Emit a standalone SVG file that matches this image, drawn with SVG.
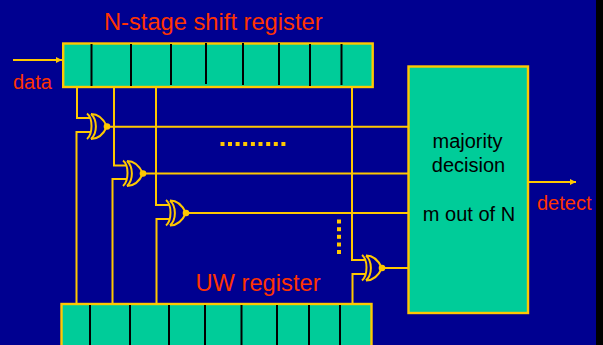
<svg xmlns="http://www.w3.org/2000/svg" width="603" height="345" viewBox="0 0 603 345">
<style>
.w{fill:none;stroke:#ffc800;stroke-width:2}
.box{fill:#00cc99;stroke:#ffc800;stroke-width:2.4}
.div{stroke:#000;stroke-width:2;fill:none}
.g{fill:none;stroke:#ffc800;stroke-width:2}
.lb{font-family:"Liberation Sans",Arial,sans-serif;fill:#ff3300}
.bk{font-family:"Liberation Sans",Arial,sans-serif;fill:#000;font-size:20px;text-anchor:middle}
.dot{fill:#ffc800}
</style>
<defs>
<marker id="a" markerUnits="userSpaceOnUse" markerWidth="7" markerHeight="6" refX="6" refY="3" orient="auto"><path d="M0 0L6 3L0 6z" fill="#ffc800"/></marker>
<g id="xor">
<path class="g" d="M87 113.500C93 118 93 134 87 139"/>
<path class="g" d="M91 114C97.500 120 97.500 133 91 139"/>
<path class="g" d="M91 114C100 114 104 120 107 126.500C104 133 100 139 91 139" />
<circle cx="107" cy="126.500" r="3.300" fill="#ffc800"/>
</g>
</defs>
<rect width="603" height="345" fill="#000090"/>
<rect x="596" width="7" height="345" fill="#000"/>
<g id="connectors">
<path class="w" d="M13 60H62" marker-end="url(#a)"/>
<path class="w" d="M528 182H576" marker-end="url(#a)"/>
<path class="w" d="M77 87V118H90M90 132H76.500V304"/>
<path class="w" d="M114 87V165.500H126M126 179H112.500V304"/>
<path class="w" d="M156 87V205H169M169 219H156.500V304"/>
<path class="w" d="M352 87V260H365M365 274H352.500V304"/>
<path class="w" d="M107 126.700H408M143 173.500H408M186 213H408M382 268H408"/>
</g>
<g id="shift-register">
<rect class="box" x="63.200" y="43.500" width="309.500" height="43.500"/>
<path class="div" d="M91.500 44V86M131 44V86M171 44V85M206 43V84M243 43V85M279 43V85M310 44V86M341.500 44V85"/>
</g>
<g id="uw-register">
<rect class="box" x="61.500" y="304" width="310" height="50"/>
<path class="div" d="M90 305V345M130 305V345M169 305V345M205 305V345M241.500 305V345M277 305V345M309 305V345M340 305V345"/>
</g>
<g id="xor1"><use href="#xor"/></g>
<g id="xor2"><use href="#xor" x="36" y="47"/></g>
<g id="xor3"><use href="#xor" x="79" y="86.500"/></g>
<g id="xor4"><use href="#xor" x="275" y="141.500"/></g>
<g id="decision">
<rect class="box" x="408.500" y="66.500" width="119.500" height="246.500"/>
<text class="bk" x="467.500" y="148">majority</text>
<text class="bk" x="468.500" y="172">decision</text>
<text class="bk" x="469" y="221">m out of N</text>
</g>
<g id="dots-h" class="dot">
<rect x="220.500" y="142" width="4" height="4"/><rect x="228" y="142" width="4" height="4"/><rect x="235.600" y="142" width="4" height="4"/><rect x="243.200" y="142" width="4" height="4"/><rect x="250.900" y="142" width="4" height="4"/><rect x="258.500" y="142" width="4" height="4"/><rect x="266.200" y="142" width="4" height="4"/><rect x="273.800" y="142" width="4" height="4"/><rect x="281.400" y="142" width="4" height="4"/>
</g>
<g id="dots-v" class="dot">
<rect x="337" y="219.500" width="4" height="4"/><rect x="337" y="227.200" width="4" height="4"/><rect x="337" y="234.800" width="4" height="4"/><rect x="337" y="242.500" width="4" height="4"/><rect x="337" y="250" width="4" height="4"/>
</g>
<text class="lb" x="104" y="30" font-size="23.700">N-stage shift register</text>
<text class="lb" x="13" y="88.500" font-size="20">data</text>
<text class="lb" x="195.500" y="291" font-size="23.700">UW register</text>
<text class="lb" x="537" y="210" font-size="20">detect</text>
</svg>
